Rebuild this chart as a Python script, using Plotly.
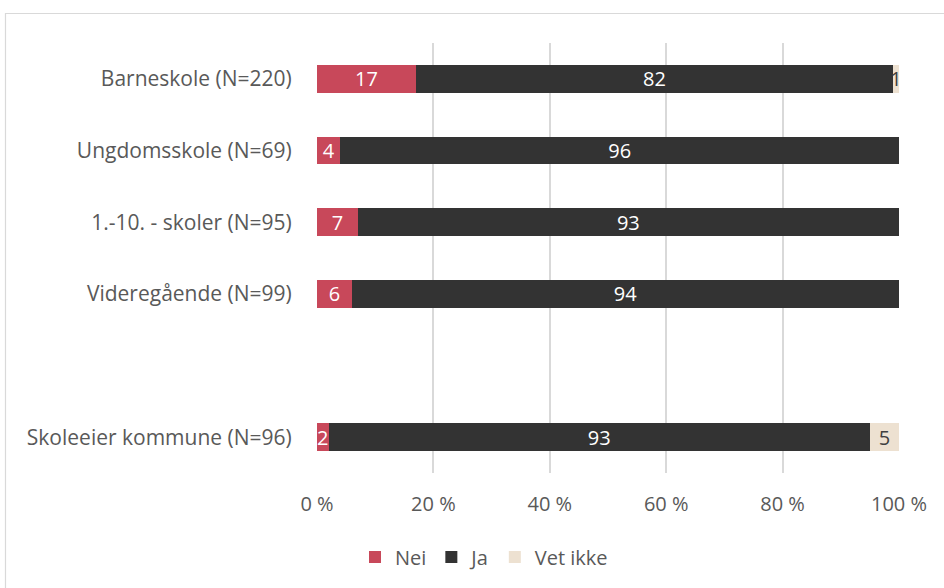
import plotly.graph_objects as go

categories = ["Barneskole (N=220)", "Ungdomsskole (N=69)", "1.-10. - skoler (N=95)",
              "Videregående (N=99)", "Skoleeier kommune (N=96)"]
y_pos = [5, 4, 3, 2, 0]
nei = [17, 4, 7, 6, 2]
ja = [82, 96, 93, 94, 93]
vet_ikke = [1, 0, 0, 0, 5]
x_ticks = [0, 20, 40, 60, 80, 100]

series = [
    ("Nei", nei, "#C8485A", "white"),
    ("Ja", ja, "#333333", "white"),
    ("Vet ikke", vet_ikke, "#EDE1D1", "#404040"),
]

FONT = "Open Sans"
FS = 20
fig = go.Figure()
for name, vals, color, tcolor in series:
    fig.add_trace(go.Bar(
        name=name, x=vals, y=y_pos, orientation="h",
        marker=dict(color=color, line=dict(width=0)),
        text=[str(v) if v else "" for v in vals],
        textposition="inside", insidetextanchor="middle",
        constraintext="none", textangle=0,
        textfont=dict(color=tcolor, size=FS, family=FONT),
        width=0.39, hoverinfo="skip",
    ))

L, R, T, B = 317, 899, 43, 473
W, H = 944, 588
def px(x): return (x - L) / (R - L)
def py(y): return (B - y) / (B - T)

fig.update_layout(
    barmode="stack",
    width=W, height=H,
    margin=dict(l=L, r=W - R, t=T, b=H - B),
    plot_bgcolor="white", paper_bgcolor="white",
    font=dict(family=FONT, color="#595959", size=FS),
    xaxis=dict(range=[0, 100], tickvals=x_ticks, ticktext=[f"{v} %" for v in x_ticks],
               showgrid=True, gridcolor="#D9D9D9", gridwidth=1.5, zeroline=False,
               showline=False, ticks="outside", ticklen=13, tickcolor="rgba(0,0,0,0)",
               tickfont=dict(size=FS)),
    yaxis=dict(range=[-0.5, 5.5], tickvals=y_pos, ticktext=categories,
               showgrid=False, zeroline=False, showline=False, ticks="outside",
               ticklen=20, tickcolor="rgba(0,0,0,0)", tickfont=dict(size=21)),
    legend=dict(orientation="h", x=px(484), xanchor="center", y=py(557), yanchor="middle",
                font=dict(size=FS), traceorder="normal", itemwidth=30),
    showlegend=True,
    shapes=[dict(type="rect", xref="paper", yref="paper",
                 x0=px(5.5), x1=px(960), y0=py(13.5), y1=py(620),
                 line=dict(color="#D9D9D9", width=1.2), layer="below")],
)

fig.write_html("out.html", config={"displayModeBar": False},
               post_script="document.body.style.margin='0';document.body.style.overflow='hidden';")
